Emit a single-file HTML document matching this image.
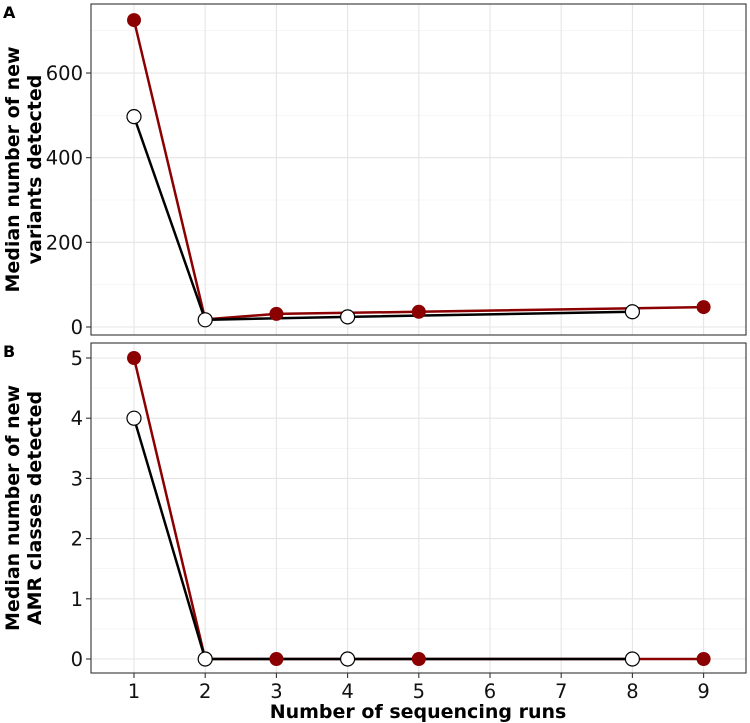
<!DOCTYPE html>
<html><head><meta charset="utf-8"><style>
body{margin:0;background:#fff;}
svg{display:block;font-family:"DejaVu Sans","Liberation Sans",sans-serif;}
</style></head><body>
<svg id="chart" width="750" height="723"></svg>
<script>
const runsRed=[1,2,3,5,9];
const aRed=[725,18,31,36,47];
const runsBlack=[1,2,4,8];
const aBlack=[497,17,24,36];
const bRed=[5,0,0,0,0];
const bBlack=[4,0,0,0];
const xTicks=[1,2,3,4,5,6,7,8,9];
const aTicks=[0,200,400,600];
const bTicks=[0,1,2,3,4,5];
const NS='http://www.w3.org/2000/svg';
const svg=document.getElementById('chart');
function mk(t,a,p){const e=document.createElementNS(NS,t);for(const k in a)e.setAttribute(k,a[k]);(p||svg).appendChild(e);return e;}
const L=91,R=746;
const xs=v=>134+(v-1)*71.2;
function panel(id,top,bot,y,ticks,minor,red,black,label,title1,title2){
  const g=mk('g',{});
  
  
  mk('rect',{x:L,y:top,width:R-L,height:bot-top,fill:'#fff'},g);
  minor.forEach(v=>mk('line',{x1:L,x2:R,y1:y(v),y2:y(v),stroke:'#f0f0f0','stroke-width':0.6},g));
  ticks.forEach(v=>mk('line',{x1:L,x2:R,y1:y(v),y2:y(v),stroke:'#e5e5e5','stroke-width':1.1},g));
  xTicks.forEach(v=>mk('line',{x1:xs(v),x2:xs(v),y1:top,y2:bot,stroke:'#e5e5e5','stroke-width':1.1},g));
  ticks.forEach(v=>{
    mk('line',{x1:L-5,x2:L,y1:y(v),y2:y(v),stroke:'#333','stroke-width':1.1},g);
    const t=mk('text',{x:L-8,y:y(v)+7,'text-anchor':'end','font-size':19.5,fill:'#111'},g);t.textContent=v;
    
  });
  const lr=mk('polyline',{points:runsRed.map((x,i)=>xs(x)+','+y(red[i])).join(' '),fill:'none',stroke:'#8b0000','stroke-width':2.5},g);
  
  const lb=mk('polyline',{points:runsBlack.map((x,i)=>xs(x)+','+y(black[i])).join(' '),fill:'none',stroke:'#000','stroke-width':2.5},g);
  
  runsRed.forEach((x,i)=>{const c=mk('circle',{cx:xs(x),cy:y(red[i]),r:7,fill:'#8b0000'},g);});
  runsBlack.forEach((x,i)=>{const c=mk('circle',{cx:xs(x),cy:y(black[i]),r:7,fill:'#fff',stroke:'#000','stroke-width':1.2},g);});
  mk('rect',{x:L,y:top,width:R-L,height:bot-top,fill:'none',stroke:'#333','stroke-width':1.1},g);
  const pl=mk('text',{x:3,y:top+14,'font-size':16,'font-weight':'bold'},g);pl.textContent=label;
  
  const cy=(top+bot)/2;
  const t=mk('text',{transform:`translate(0,${cy}) rotate(-90)`,'text-anchor':'middle','font-size':19,'font-weight':'bold'},g);
  
  const s1=mk('tspan',{x:0,y:19},t);s1.textContent=title1;
  const s2=mk('tspan',{x:0,y:41},t);s2.textContent=title2;
}
const ya=v=>327-v*0.4233;
panel('panel-a',4,335,ya,aTicks,[100,300,500,700],aRed,aBlack,'A','Median number of new','variants detected');
const yb=v=>659-v*60.2;
panel('panel-b',343,673,yb,bTicks,[0.5,1.5,2.5,3.5,4.5],bRed,bBlack,'B','Median number of new','AMR classes detected');
xTicks.forEach(v=>{
  mk('line',{x1:xs(v),x2:xs(v),y1:673,y2:678,stroke:'#333','stroke-width':1.1});
  const t=mk('text',{x:xs(v),y:698,'text-anchor':'middle','font-size':19.5,fill:'#111'});t.textContent=v;
  
});
const xt=mk('text',{x:418,y:718,'text-anchor':'middle','font-size':19,'font-weight':'bold'});
xt.textContent='Number of sequencing runs';

</script>
</body></html>
